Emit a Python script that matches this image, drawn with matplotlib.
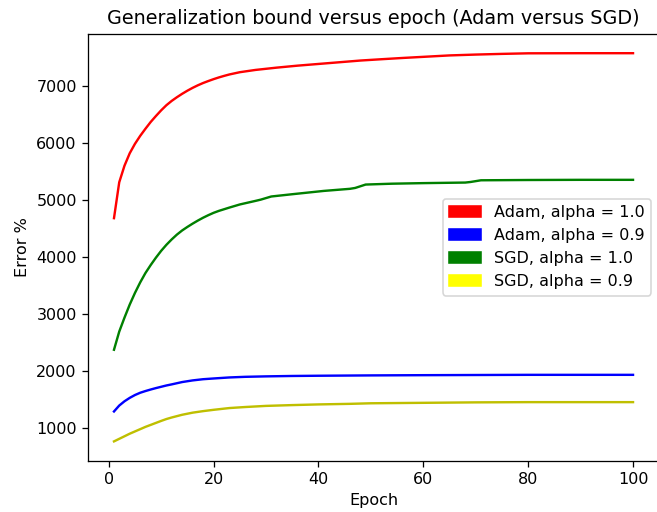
import matplotlib
matplotlib.use("Agg")
import matplotlib.pyplot as plt
import matplotlib.patches as mpatches

# values at selected epochs
adam_10_ep = [1, 2, 3, 4, 5, 6, 7, 8, 9, 10, 11, 12, 13, 14, 15, 16, 17, 18, 19, 20, 21, 22, 23, 25, 28, 32, 36, 40, 44, 48, 52, 56, 60, 65, 70, 75, 80, 90, 100]
adam_10 = [4684, 5315, 5606, 5825, 5991, 6131, 6256, 6375, 6480, 6580, 6670, 6745, 6810, 6870, 6925, 6975, 7020, 7060, 7095, 7128, 7158, 7185, 7210, 7250, 7290, 7330, 7365, 7395, 7425, 7455, 7478, 7500, 7520, 7545, 7560, 7572, 7582, 7584, 7584]

adam_09_ep = [1, 2, 3, 4, 5, 6, 7, 8, 9, 10, 11, 12, 14, 16, 18, 20, 23, 26, 30, 35, 40, 50, 60, 70, 80, 90, 100]
adam_09 = [1286, 1390, 1465, 1525, 1575, 1615, 1645, 1672, 1697, 1720, 1743, 1762, 1803, 1832, 1853, 1866, 1884, 1895, 1903, 1910, 1914, 1920, 1924, 1927, 1930, 1930, 1930]

sgd_10_ep = [1, 2, 3, 4, 5, 6, 7, 8, 9, 10, 11, 12, 13, 14, 15, 16, 17, 18, 19, 20, 21, 23, 25, 28, 29, 31, 35, 41, 46, 47, 49, 54, 60, 68, 69, 71, 80, 90, 100]
sgd_10 = [2371, 2690, 2935, 3165, 3370, 3555, 3720, 3860, 3990, 4110, 4216, 4310, 4395, 4468, 4530, 4588, 4642, 4692, 4737, 4778, 4812, 4870, 4925, 4988, 5010, 5065, 5105, 5163, 5200, 5215, 5275, 5290, 5300, 5310, 5320, 5350, 5355, 5358, 5358]

sgd_09_ep = [1, 2, 3, 4, 5, 6, 7, 8, 9, 10, 11, 12, 14, 16, 18, 20, 23, 26, 30, 35, 40, 46, 50, 60, 70, 80, 90, 100]
sgd_09 = [760, 805, 850, 895, 935, 975, 1015, 1050, 1085, 1120, 1153, 1180, 1228, 1265, 1292, 1315, 1346, 1364, 1384, 1398, 1410, 1420, 1430, 1438, 1446, 1450, 1450, 1450]

labels = ["Adam, alpha = 1.0", "Adam, alpha = 0.9", "SGD, alpha = 1.0", "SGD, alpha = 0.9"]
legend_colors = ["red", "blue", "green", "yellow"]

fig, ax = plt.subplots(figsize=(657 / 115, 512 / 115), dpi=115)
fig.subplots_adjust(left=0.134, right=1.003, top=0.934, bottom=0.100)

ax.plot(adam_10_ep, adam_10, "r")
ax.plot(adam_09_ep, adam_09, "b")
ax.plot(sgd_10_ep, sgd_10, "g")
ax.plot(sgd_09_ep, sgd_09, "y")

handles = [mpatches.Patch(color=c, label=l) for c, l in zip(legend_colors, labels)]
ax.legend(handles=handles, loc="center right")
ax.set_title("Generalization bound versus epoch (Adam versus SGD)")
ax.set_xlabel("Epoch")
ax.set_ylabel("Error %")

fig.savefig("out.png")
